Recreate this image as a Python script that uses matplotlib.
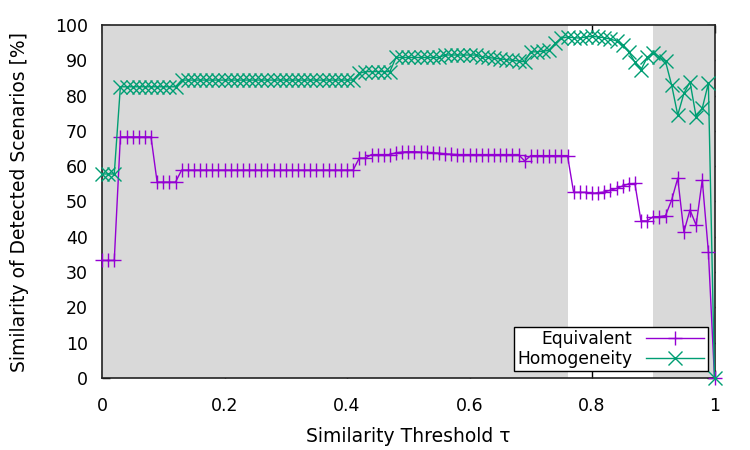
import numpy as np
import matplotlib
matplotlib.use("Agg")
import matplotlib.pyplot as plt
from matplotlib.ticker import FuncFormatter

plt.rcParams['font.family'] = ['DejaVu Sans']

# thresholds 0.00 .. 1.00 in steps of 0.01
thresholds = np.round(np.linspace(0.0, 1.0, 101), 2)

equivalent = [
    33.3, 33.3, 33.3,
    68.3, 68.3, 68.3, 68.3, 68.3, 68.3,
    55.5, 55.5, 55.5, 55.5,
    58.9, 58.9, 58.9, 58.9, 58.9, 58.9, 58.9, 58.9, 58.9, 58.9,
    58.9, 58.9, 58.9, 58.9, 58.9, 58.9, 58.9, 58.9, 58.9, 58.9,
    58.9, 58.9, 58.9, 58.9, 58.9, 58.9, 58.9, 58.9, 58.9,
    62.3, 62.3,
    63.3, 63.3, 63.3, 63.3,
    63.8, 64.0, 64.1, 64.1, 64.0, 63.9, 63.8, 63.7,
    63.5, 63.4, 63.3, 63.3, 63.3, 63.3, 63.3, 63.3, 63.3, 63.3, 63.3, 63.3, 63.3,
    61.5,
    63.0, 63.0, 63.0, 63.0, 63.0, 63.0, 63.0,
    52.6, 52.6, 52.6, 52.3, 52.5, 52.7, 53.2, 53.7, 54.4, 55.0, 55.1,
    44.5, 44.5, 45.7, 45.7, 46.0, 50.4, 56.6, 41.4, 47.6, 43.3, 56.1, 35.8, 0.0,
]

homogeneity = [
    57.8, 57.8, 57.8,
    82.5, 82.5, 82.5, 82.5, 82.5, 82.5, 82.5, 82.5, 82.5, 82.5,
    84.4, 84.4, 84.4, 84.4, 84.4, 84.4, 84.4, 84.4, 84.4, 84.4,
    84.4, 84.4, 84.4, 84.4, 84.4, 84.4, 84.4, 84.4, 84.4, 84.4,
    84.4, 84.4, 84.4, 84.4, 84.4, 84.4, 84.4, 84.4, 84.4,
    86.3, 86.8, 86.8, 86.8, 86.8, 86.8,
    90.8, 90.8, 90.8, 90.8, 90.8, 90.8, 90.8, 90.8,
    91.5, 91.5, 91.5, 91.5, 91.5, 91.5,
    91.0, 90.8, 90.6, 90.4, 90.2, 90.0, 89.8, 89.6,
    92.4, 92.4, 92.6, 92.8,
    94.8, 96.3,
    96.6, 96.4, 96.3, 96.6, 96.8, 96.6, 96.4, 96.0,
    95.5, 94.3, 92.4, 89.5, 87.3, 90.8, 92.0, 91.0, 89.7,
    83.0, 74.5, 80.6, 83.9, 74.0, 76.4, 83.5, 0.0,
]

shaded_regions = [(0.0, 0.76), (0.90, 1.0)]
series_labels = ["Equivalent", "Homogeneity"]
x_ticks = [0, 0.2, 0.4, 0.6, 0.8, 1.0]
y_ticks = list(range(0, 101, 10))

fig = plt.figure(figsize=(7.5, 4.5), dpi=100)
ax = fig.add_axes([102 / 750, 72 / 450, 612.5 / 750, 353 / 450])

for a, b in shaded_regions:
    ax.axvspan(a, b, color='#d9d9d9', lw=0, zorder=1)

ax.plot(thresholds, equivalent, color='#9400d3', lw=1.0, marker='+',
        markersize=9.5, markeredgewidth=1.0, label=series_labels[0], zorder=3,
        clip_on=False)
ax.plot(thresholds, homogeneity, color='#009e73', lw=1.0, marker='x',
        markersize=9.5, markeredgewidth=1.0, label=series_labels[1], zorder=3,
        clip_on=False)

ax.set_xlim(0, 1)
ax.set_ylim(0, 100)
ax.set_xticks(x_ticks)
ax.set_yticks(y_ticks)
ax.xaxis.set_major_formatter(FuncFormatter(lambda v, p: '%g' % v))
ax.set_axisbelow(True)
ax.tick_params(direction='in', length=6, width=1, top=True, right=True,
               labelsize=12.5, colors='black')
ax.tick_params(axis='x', pad=14)
ax.tick_params(axis='y', pad=10)
for s in ax.spines.values():
    s.set_linewidth(1.2)
    s.set_color('#222222')
    s.set_zorder(2.5)

ax.set_xlabel('Similarity Threshold τ', fontsize=13.5, labelpad=8)
ax.set_ylabel('Similarity of Detected Scenarios [%]', fontsize=13.5, labelpad=19)

leg = ax.legend(loc='lower right', markerfirst=False, fontsize=12.3,
                frameon=True, fancybox=False, framealpha=1, edgecolor='black',
                handlelength=3.4, handletextpad=0.8, labelspacing=0.1,
                borderpad=0.2, borderaxespad=0.4)
leg.get_frame().set_linewidth(1.0)
leg.set_zorder(5)

fig.savefig('out.png', dpi=100)
